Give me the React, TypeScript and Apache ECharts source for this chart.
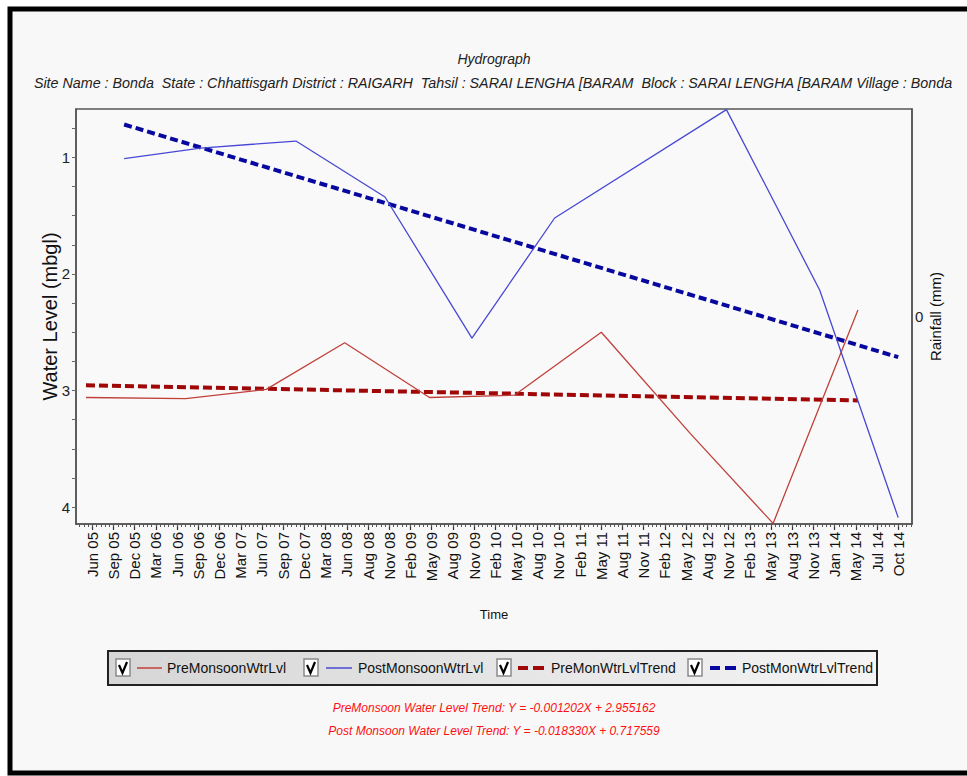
import React, { useEffect, useRef } from "react";
import * as echarts from "echarts";

const xLabels = [
  "Jun 05", "Sep 05", "Dec 05", "Mar 06", "Jun 06", "Sep 06", "Dec 06", "Mar 07", "Jun 07", "Sep 07",
  "Dec 07", "Mar 08", "Jun 08", "Aug 08", "Nov 08", "Feb 09", "May 09", "Aug 09", "Nov 09", "Feb 10",
  "May 10", "Aug 10", "Nov 10", "Feb 11", "May 11", "Aug 11", "Nov 11", "Feb 12", "May 12", "Aug 12",
  "Nov 12", "Feb 13", "May 13", "Aug 13", "Nov 13", "Jan 14", "May 14", "Jul 14", "Oct 14",
];

// positions along the time axis (label index units) and water levels (mbgl)
const preX = [-0.3, 4.4, 8.2, 11.9, 15.9, 19.9, 24.0, 28.2, 32.1, 36.1];
const preY = [3.06, 3.07, 2.99, 2.59, 3.06, 3.04, 2.5, 3.37, 4.14, 2.31];

const postX = [1.5, 5.1, 9.6, 13.8, 17.9, 21.8, 29.9, 34.3, 38.0];
const postY = [1.01, 0.92, 0.86, 1.34, 2.55, 1.52, 0.59, 2.14, 4.09];

const preTrendX = [-0.3, 36.1];
const preTrendY = [2.955, 3.085];
const postTrendX = [1.5, 38.0];
const postTrendY = [0.718, 2.714];

const yLabelValues = [1, 2, 3, 4];

const seriesNames = ["PreMonsoonWtrLvl", "PostMonsoonWtrLvl", "PreMonWtrLvlTrend", "PostMonWtrLvlTrend"];
const titleText = "Hydrograph";
const subTitleText =
  "Site Name : Bonda  State : Chhattisgarh District : RAIGARH  Tahsil : SARAI LENGHA [BARAM  Block : SARAI LENGHA [BARAM Village : Bonda";
const trendTexts = [
  "PreMonsoon Water Level Trend: Y = -0.001202X + 2.955162",
  "Post Monsoon Water Level Trend: Y = -0.018330X + 0.717559",
];

const RED = "#c0403a";
const BLUE = "#4848d4";
const DRED = "#a00808";
const DBLUE = "#0808a0";
const FONT = "'Liberation Sans', Arial, sans-serif";

const zip = (xs: number[], ys: number[]) => xs.map((x, i) => [x, ys[i]]);

export default function App() {
  const ref = useRef<HTMLDivElement>(null);
  useEffect(() => {
    document.body.style.margin = "0";
    if (!ref.current) return;
    const chart = echarts.init(ref.current, null, { renderer: "svg" });

    const majorTicks = xLabels.map((_, i) => i);
    const minorTicks: number[] = [];
    for (let k = -3; k <= 193; k++) minorTicks.push(k * 0.2);
    const yTicks: number[] = [];
    for (let k = 3; k <= 16; k++) yTicks.push(k * 0.25);

    const legendItems = [
      { cb: 116, x1: 137, x2: 162, tx: 167, color: RED, dashed: false },
      { cb: 304, x1: 326, x2: 352, tx: 358, color: BLUE, dashed: false },
      { cb: 497, x1: 518, x2: 544, tx: 551, color: DRED, dashed: true },
      { cb: 688, x1: 710, x2: 736, tx: 742, color: DBLUE, dashed: true },
    ];
    const legendGraphics: any[] = [];
    legendItems.forEach((it, i) => {
      legendGraphics.push({
        type: "rect",
        shape: { x: it.cb, y: 659, width: 14, height: 17 },
        style: { fill: "#ffffff", stroke: "#8a8a8a", lineWidth: 1.5 },
      });
      legendGraphics.push({
        type: "polyline",
        shape: { points: [[it.cb + 3, 665], [it.cb + 6.5, 673], [it.cb + 11, 662]] },
        style: { stroke: "#000", lineWidth: 2.2, fill: null },
      });
      if (it.dashed) {
        legendGraphics.push({
          type: "line",
          shape: { x1: it.x1, y1: 668, x2: it.x1 + 10, y2: 668 },
          style: { stroke: it.color, lineWidth: 4 },
        });
        legendGraphics.push({
          type: "line",
          shape: { x1: it.x1 + 15, y1: 668, x2: it.x2, y2: 668 },
          style: { stroke: it.color, lineWidth: 4 },
        });
      } else {
        legendGraphics.push({
          type: "line",
          shape: { x1: it.x1, y1: 668, x2: it.x2, y2: 668 },
          style: { stroke: it.color, lineWidth: 1.5 },
        });
      }
      legendGraphics.push({
        type: "text",
        x: it.tx,
        y: 668,
        style: {
          text: seriesNames[i],
          fill: "#111",
          font: `14px ${FONT}`,
          textVerticalAlign: "middle",
          verticalAlign: "middle",
        },
      });
    });

    const option: any = {
      animation: false,
      backgroundColor: "#f8f8f8",
      grid: {
        left: 76,
        top: 109,
        right: 55,
        bottom: 252,
        show: true,
        borderColor: "#555",
        borderWidth: 1.5,
        backgroundColor: "#f9f9f9",
      },
      xAxis: [
        {
          type: "value",
          min: -0.77,
          max: 38.65,
          name: "Time",
          nameLocation: "middle",
          nameGap: 84,
          nameMoveOverlap: false,
          nameTextStyle: { fontFamily: FONT, fontSize: 13, color: "#111" },
          axisLine: { show: true, onZero: false, lineStyle: { color: "#555", width: 1.5 } },
          axisTick: { show: true, customValues: majorTicks, length: 6, lineStyle: { color: "#333", width: 1.2 } },
          axisLabel: {
            customValues: majorTicks,
            formatter: (v: number) => xLabels[Math.round(v)] ?? "",
            rotate: 90,
            margin: 8,
            fontFamily: FONT,
            fontSize: 15,
            color: "#111",
          },
          splitLine: { show: false },
        },
        {
          type: "value",
          min: -0.77,
          max: 38.65,
          position: "bottom",
          axisLine: { show: false, onZero: false },
          axisTick: { show: true, customValues: minorTicks, length: 3, lineStyle: { color: "#555", width: 1 } },
          axisLabel: { show: false },
          splitLine: { show: false },
        },
      ],
      yAxis: [
        {
          type: "value",
          inverse: true,
          min: 0.585,
          max: 4.145,
          name: "Water Level (mbgl)",
          nameLocation: "middle",
          nameGap: 16,
          nameRotate: 90,
          nameMoveOverlap: false,
          nameTextStyle: { fontFamily: FONT, fontSize: 20, color: "#111" },
          axisLine: { show: true, onZero: false, lineStyle: { color: "#555", width: 1.5 } },
          axisTick: { show: true, customValues: yTicks, length: 4, lineStyle: { color: "#666" } },
          axisLabel: { customValues: yLabelValues, fontFamily: FONT, fontSize: 15, color: "#222", margin: 6 },
          splitLine: { show: false },
        },
        {
          type: "value",
          position: "right",
          min: -1,
          max: 1,
          name: "Rainfall (mm)",
          nameLocation: "middle",
          nameGap: 16,
          nameRotate: 90,
          nameMoveOverlap: false,
          nameTextStyle: { fontFamily: FONT, fontSize: 15, color: "#111" },
          axisLine: { show: true, onZero: false, lineStyle: { color: "#555", width: 1.5 } },
          axisTick: { show: false },
          axisLabel: { customValues: [0], fontFamily: FONT, fontSize: 15, color: "#222", margin: 3 },
          splitLine: { show: false },
        },
      ],
      series: [
        {
          name: seriesNames[0],
          type: "line",
          data: zip(preX, preY),
          symbol: "none",
          lineStyle: { color: RED, width: 1.3 },
          z: 3,
        },
        {
          name: seriesNames[1],
          type: "line",
          data: zip(postX, postY),
          symbol: "none",
          lineStyle: { color: BLUE, width: 1.3 },
          z: 3,
        },
        {
          name: seriesNames[2],
          type: "line",
          data: zip(preTrendX, preTrendY),
          symbol: "none",
          lineStyle: { color: DRED, width: 4, type: [9, 4] },
          z: 2,
        },
        {
          name: seriesNames[3],
          type: "line",
          data: zip(postTrendX, postTrendY),
          symbol: "none",
          lineStyle: { color: DBLUE, width: 4, type: [8, 4] },
          z: 2,
        },
      ],
      graphic: [
        { type: "rect", shape: { x: 0, y: 0, width: 7.5, height: 776 }, style: { fill: "#ffffff" } },
        { type: "rect", shape: { x: 0, y: 0, width: 967, height: 6.5 }, style: { fill: "#ffffff" } },
        {
          type: "rect",
          shape: { x: 10, y: 9, width: 1000, height: 764 },
          style: { fill: null, stroke: "#000", lineWidth: 5 },
        },
        {
          type: "text",
          x: 494,
          y: 59,
          style: {
            text: titleText,
            font: `italic 14px ${FONT}`,
            fill: "#222",
            textAlign: "center",
            textVerticalAlign: "middle",
            verticalAlign: "middle",
          },
        },
        {
          type: "text",
          x: 493,
          y: 83,
          style: {
            text: subTitleText,
            font: `italic 14.3px ${FONT}`,
            fill: "#222",
            textAlign: "center",
            textVerticalAlign: "middle",
            verticalAlign: "middle",
          },
        },
        {
          type: "rect",
          shape: { x: 108, y: 651, width: 769, height: 34 },
          style: {
            fill: new echarts.graphic.LinearGradient(0, 0, 1, 0, [
              { offset: 0, color: "#d6d6d6" },
              { offset: 1, color: "#f4f4f4" },
            ]),
            stroke: "#222",
            lineWidth: 2,
          },
        },
        ...legendGraphics,
        {
          type: "text",
          x: 494,
          y: 708,
          style: {
            text: trendTexts[0],
            font: `italic 12px ${FONT}`,
            fill: "#ff1010",
            textAlign: "center",
            textVerticalAlign: "middle",
            verticalAlign: "middle",
          },
        },
        {
          type: "text",
          x: 494,
          y: 731,
          style: {
            text: trendTexts[1],
            font: `italic 12px ${FONT}`,
            fill: "#ff1010",
            textAlign: "center",
            textVerticalAlign: "middle",
            verticalAlign: "middle",
          },
        },
      ],
    };
    chart.setOption(option);
    return () => chart.dispose();
  }, []);
  return <div ref={ref} style={{ width: 967, height: 776, background: "#f8f8f8" }} />;
}
